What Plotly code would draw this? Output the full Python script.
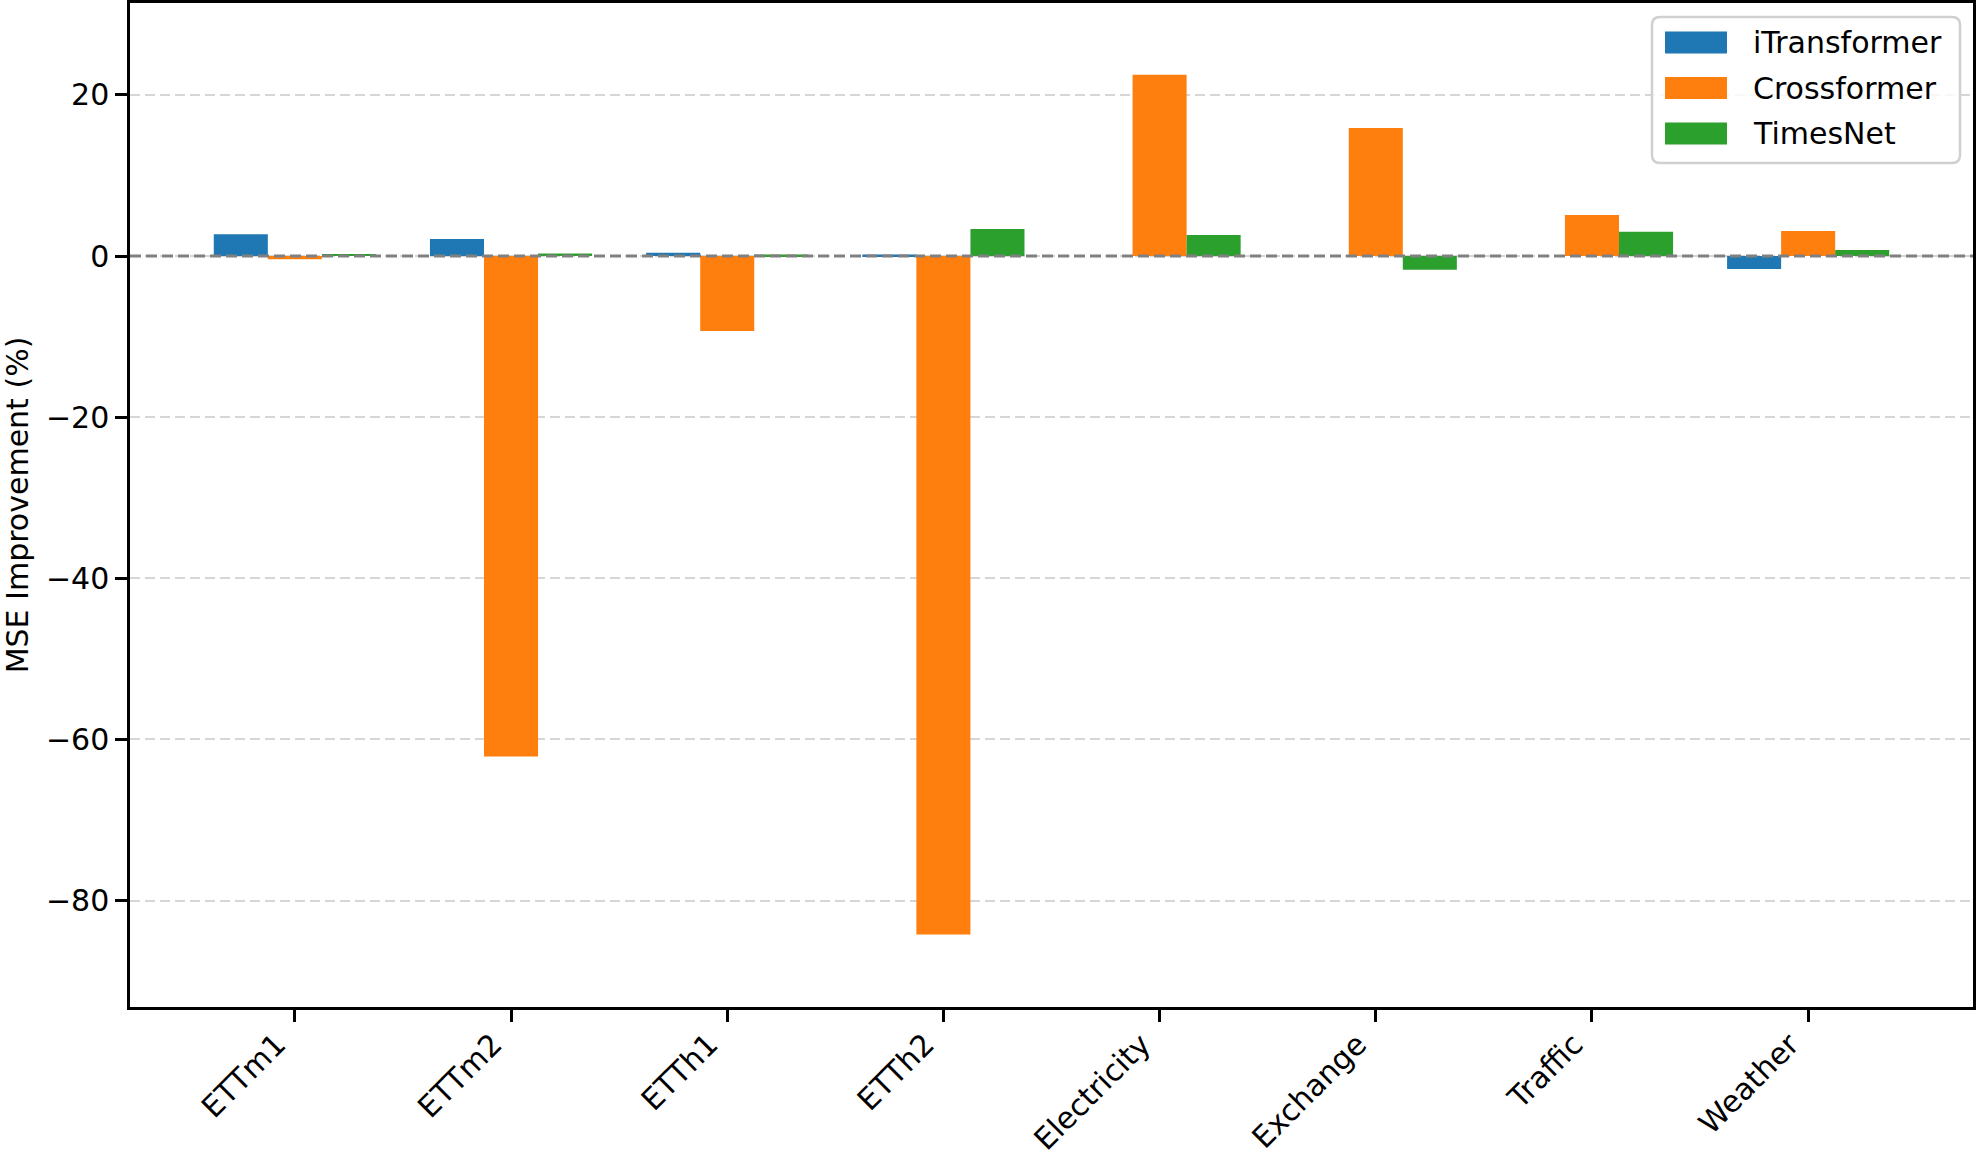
import plotly.graph_objects as go

datasets = ["ETTm1", "ETTm2", "ETTh1", "ETTh2", "Electricity", "Exchange", "Traffic", "Weather"]
itransformer = [2.7, 2.1, 0.4, 0.2, 0.0, 0.0, 0.0, -1.6]
crossformer = [-0.4, -62.1, -9.3, -84.2, 22.5, 15.9, 5.1, 3.1]
timesnet = [0.25, 0.3, 0.2, 3.35, 2.6, -1.7, 3.0, 0.75]
series_names = ["iTransformer", "Crossformer", "TimesNet"]
colors = ["#1f77b4", "#ff7f0e", "#2ca02c"]
y_ticks = [-80, -60, -40, -20, 0, 20]

FONT = "DejaVu Sans"
W, H = 1977, 1154
ML, MR, MT, MB = 130, 4, 3, 147
PW, PH = W - ML - MR, H - MT - MB


def px_x(p):
    return (p - ML) / PW


def px_y(p):
    return (H - MB - p) / PH


def rounded_box(x0, y0, x1, y1, r):
    # pixel coords (y down) -> paper path with rounded corners
    X = px_x
    Y = px_y
    return (f"M {X(x0 + r)},{Y(y0)} L {X(x1 - r)},{Y(y0)} Q {X(x1)},{Y(y0)} {X(x1)},{Y(y0 + r)} "
            f"L {X(x1)},{Y(y1 - r)} Q {X(x1)},{Y(y1)} {X(x1 - r)},{Y(y1)} "
            f"L {X(x0 + r)},{Y(y1)} Q {X(x0)},{Y(y1)} {X(x0)},{Y(y1 - r)} "
            f"L {X(x0)},{Y(y0 + r)} Q {X(x0)},{Y(y0)} {X(x0 + r)},{Y(y0)} Z")


fig = go.Figure()
for name, vals, col in zip(series_names, [itransformer, crossformer, timesnet], colors):
    fig.add_trace(go.Bar(x=datasets, y=vals, name=name, showlegend=False,
                         marker=dict(color=col, line=dict(width=0))))

# zero reference line
fig.add_shape(type="line", xref="paper", x0=0, x1=1, yref="y", y0=0, y1=0,
              line=dict(color="#808080", width=3, dash="11px,5px"), layer="above")

# legend (matplotlib-style box with wide patches)
fig.add_shape(type="path", xref="paper", yref="paper",
              path=rounded_box(1652, 17, 1960, 163, 8),
              line=dict(color="#d0d0d0", width=2.5), fillcolor="rgba(255,255,255,0.8)", layer="above")
for i, (name, col) in enumerate(zip(series_names, colors)):
    cy = 42.5 + i * 45.5
    fig.add_shape(type="rect", xref="paper", yref="paper",
                  x0=px_x(1665), x1=px_x(1727), y0=px_y(cy + 11), y1=px_y(cy - 11),
                  line=dict(width=0), fillcolor=col, layer="above")
    fig.add_annotation(xref="paper", yref="paper", x=px_x(1751), y=px_y(cy),
                       xanchor="left", yanchor="middle", showarrow=False, text=name,
                       font=dict(family=FONT, size=30, color="black"))

fig.update_layout(
    width=W, height=H,
    margin=dict(l=ML, r=MR, t=MT, b=MB),
    paper_bgcolor="white", plot_bgcolor="white",
    barmode="group", bargap=0.25, bargroupgap=0,
    font=dict(family=FONT, size=30, color="black"),
    showlegend=False,
    xaxis=dict(
        range=[-0.7625, 7.7625], automargin=False,
        showline=True, mirror=True, linecolor="black", linewidth=2.5,
        ticks="outside", ticklen=12, tickwidth=2.5, tickcolor="black",
        tickangle=-45, showgrid=False,
        ticklabelstandoff=-7, ticklabelshift=-18,
        tickfont=dict(family=FONT, size=30, color="black"),
    ),
    yaxis=dict(
        range=[-93.2, 31.4], automargin=False,
        tickvals=y_ticks,
        showline=True, mirror=True, linecolor="black", linewidth=2.5,
        ticks="outside", ticklen=12, tickwidth=2.5, tickcolor="black",
        showgrid=True, gridcolor="#d6d6d6", gridwidth=2, griddash="10px,5px",
        zeroline=False,
        tickfont=dict(family=FONT, size=30, color="black"),
        title=dict(text="MSE Improvement (%)", font=dict(family=FONT, size=30, color="black"), standoff=12),
    ),
)

fig.write_html("out.html", config={"displayModeBar": False},
               post_script="document.body.style.margin='0';")
